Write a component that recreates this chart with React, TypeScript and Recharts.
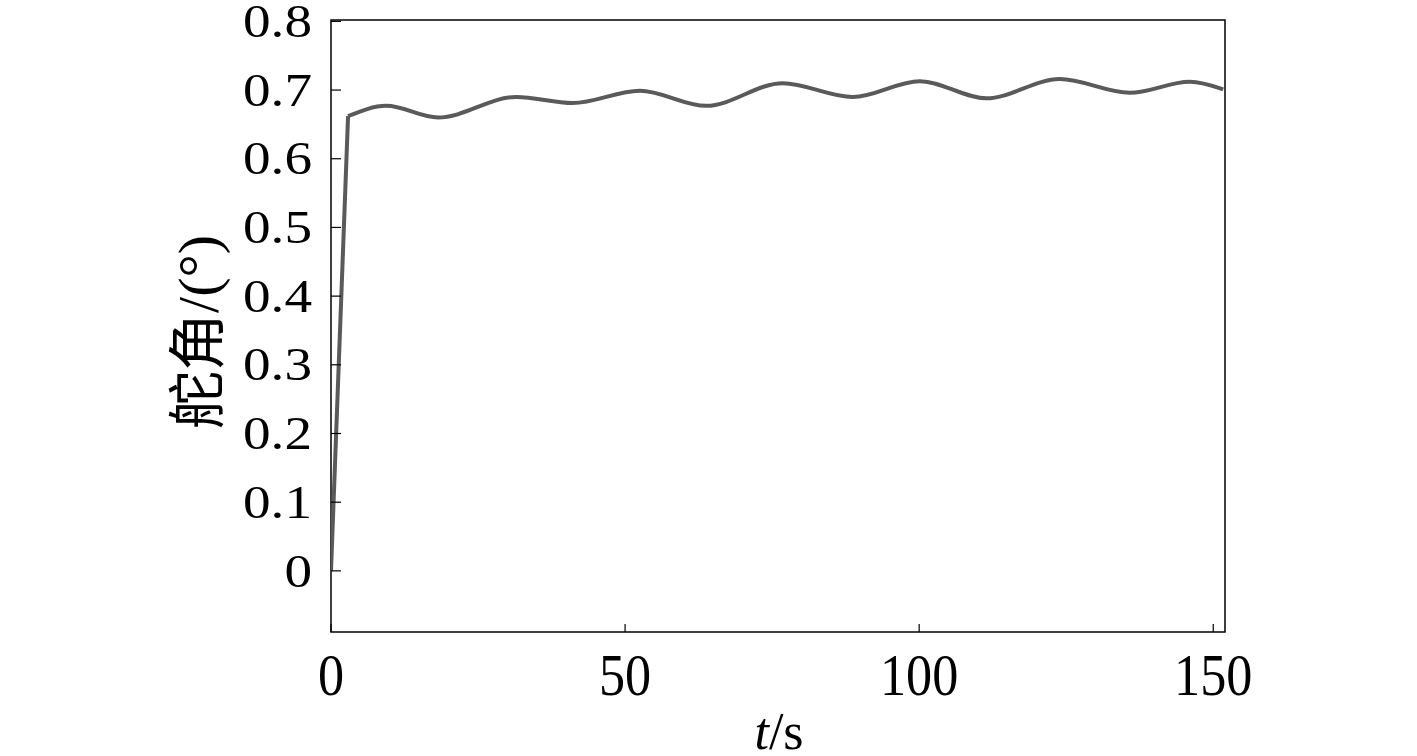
import React from 'react';
import { LineChart, Line, XAxis, YAxis, ReferenceArea } from 'recharts';

// 舵角响应曲线
const timeS = [0, 2.9, 9.4, 18.2, 31.5, 41.1, 52.5, 63.8, 76.8, 88.7, 100.1, 111.4, 123.9, 135.8, 146, 151.7];
const rudderDeg = [0, 0.662, 0.677, 0.66, 0.69, 0.681, 0.699, 0.677, 0.71, 0.69, 0.713, 0.688, 0.716, 0.696, 0.712, 0.701];
const xTicks = [0, 50, 100, 150];
const yTicks = [0, 0.1, 0.2, 0.3, 0.4, 0.5, 0.6, 0.7, 0.8];

// step response: straight ramp for the first two samples, smooth afterwards
const data = timeS.map((t, i) => ({
  t,
  ramp: i <= 1 ? rudderDeg[i] : null,
  angle: i >= 1 ? rudderDeg[i] : null,
}));

const serif = "'Liberation Serif', 'Times New Roman', serif";

const fmtY = (v: number) => (v === 0 ? '0' : v.toFixed(1));

const YTick = (props: any) => {
  const { x, y, payload } = props;
  return (
    <text
      transform={`translate(${x},${y}) scale(1.2,1)`}
      textAnchor="end"
      dy="0.34em"
      fontSize={46}
      fontFamily={serif}
      fill="#000"
    >
      {fmtY(payload.value)}
    </text>
  );
};

const XTick = (props: any) => {
  const { x, y, payload } = props;
  return (
    <text
      transform={`translate(${x},${y}) scale(0.87,1)`}
      textAnchor="middle"
      fontSize={60}
      fontFamily={serif}
      fill="#000"
    >
      {payload.value}
    </text>
  );
};

const xTitle = (p: any) => {
  const vb = p.viewBox;
  return (
    <text x={vb.x + vb.width / 2 + 1} y={vb.y + 117} textAnchor="middle" fontSize={52} fontFamily={serif} fill="#000">
      <tspan fontStyle="italic">t</tspan>
      <tspan>/s</tspan>
    </text>
  );
};

const yTitle = (p: any) => {
  const vb = p.viewBox;
  const cx = vb.x + 198;
  const cy = vb.y + vb.height / 2 + 6;
  return (
    <text
      transform={`translate(${cx},${cy}) rotate(-90)`}
      textAnchor="middle"
      dominantBaseline="central"
      fontSize={58}
      fontFamily={`${serif}, 'Noto Sans CJK SC'`}
      fill="#000"
    >
      舵角/(°)
    </text>
  );
};

export default function App() {
  return (
    <div style={{ position: 'absolute', left: 0, top: 0, width: 1417, height: 756, background: '#fff' }}>
      <LineChart width={1417} height={756} data={data} margin={{ top: 20, right: 192, bottom: 0, left: 0 }}>
        <XAxis
          dataKey="t"
          type="number"
          domain={[0, 152]}
          ticks={xTicks}
          allowDataOverflow
          axisLine={false}
          tickSize={-8}
          tickMargin={71}
          tickLine={{ stroke: '#000', strokeWidth: 1.2 }}
          tick={<XTick />}
          height={124}
          interval={0}
          label={{ content: xTitle }}
        />
        <YAxis
          type="number"
          domain={[-0.089, 0.802]}
          ticks={yTicks}
          allowDataOverflow
          axisLine={false}
          tickSize={-10}
          tickMargin={29}
          tickLine={{ stroke: '#000', strokeWidth: 1.2 }}
          tick={<YTick />}
          width={331}
          interval={0}
          label={{ content: yTitle }}
        />
        <ReferenceArea
          x1={0}
          x2={152}
          y1={-0.089}
          y2={0.802}
          fill="none"
          stroke="#000"
          strokeWidth={1.5}
          ifOverflow="visible"
        />
        <Line
          type="linear"
          dataKey="ramp"
          stroke="#5a5a5a"
          strokeWidth={4}
          strokeLinejoin="round"
          dot={false}
          connectNulls={false}
          isAnimationActive={false}
        />
        <Line
          type="monotone"
          dataKey="angle"
          stroke="#5a5a5a"
          strokeWidth={4}
          dot={false}
          connectNulls={false}
          isAnimationActive={false}
        />
      </LineChart>
    </div>
  );
}
